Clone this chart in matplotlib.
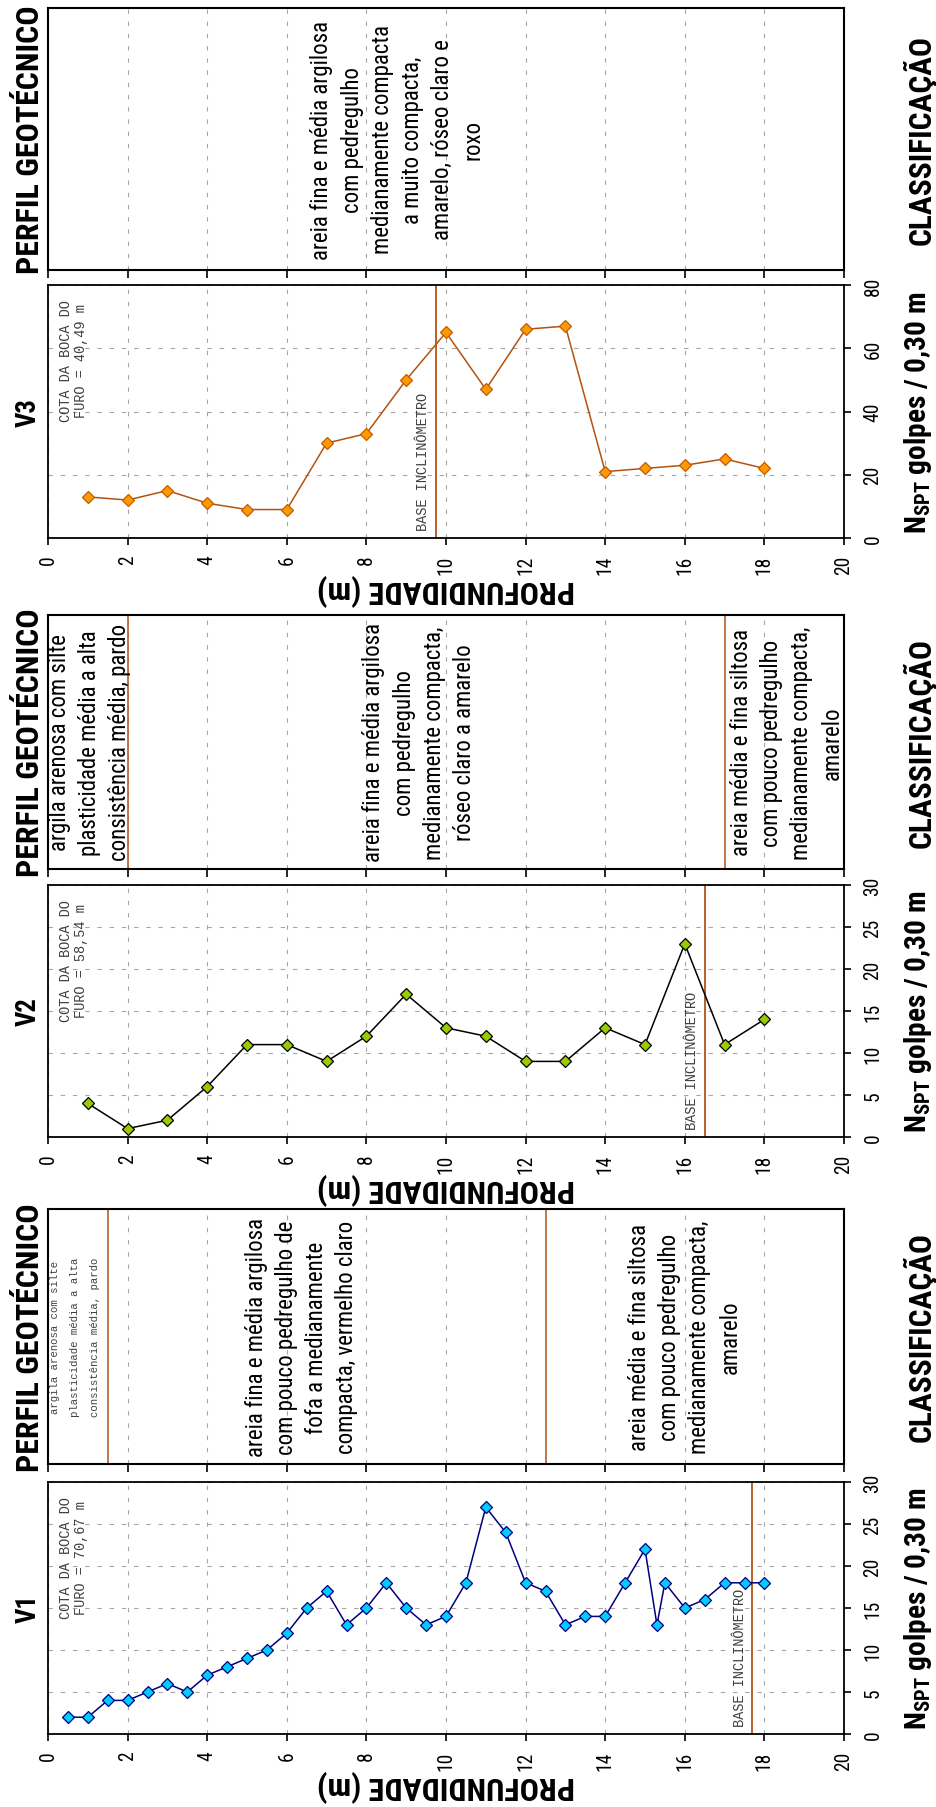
import matplotlib
matplotlib.use('Agg')
import matplotlib.pyplot as plt
from matplotlib import font_manager as fm

# ------------------------------------------------------------------ data
v1_depth = [0.5, 1.0, 1.5, 2.0, 2.5, 3.0, 3.5, 4.0, 4.5, 5.0, 5.5, 6.0, 6.5, 7.0, 7.5,
            8.0, 8.5, 9.0, 9.5, 10.0, 10.5, 11.0, 11.5, 12.0, 12.5, 13.0, 13.5, 14.0,
            14.5, 15.0, 15.3, 15.5, 16.0, 16.5, 17.0, 17.5, 18.0]
v1_nspt = [2, 2, 4, 4, 5, 6, 5, 7, 8, 9, 10, 12, 15, 17, 13, 15, 18, 15, 13, 14,
           18, 27, 24, 18, 17, 13, 14, 14, 18, 22, 13, 18, 15, 16, 18, 18, 18]

v2_depth = [1, 2, 3, 4, 5, 6, 7, 8, 9, 10, 11, 12, 13, 14, 15, 16, 17, 18]
v2_nspt = [4, 1, 2, 6, 11, 11, 9, 12, 17, 13, 12, 9, 9, 13, 11, 23, 11, 14]

v3_depth = [1, 2, 3, 4, 5, 6, 7, 8, 9, 10, 11, 12, 13, 14, 15, 16, 17, 18]
v3_nspt = [13, 12, 15, 11, 9, 9, 30, 33, 50, 65, 47, 66, 67, 21, 22, 23, 25, 22]

furos = ['V1', 'V2', 'V3']
cotas = ['70,67', '58,54', '40,49']
base_inclinometro = [17.7, 16.5, 9.75]

v1_limites = [1.5, 12.5]
v2_limites = [2.0, 17.0]
v3_limites = []

v1_camadas = [
    ['argila arenosa com silte', 'plasticidade média a alta', 'consistência média, pardo'],
    ['areia fina e média argilosa', 'com pouco pedregulho de', 'fofa a medianamente',
     'compacta, vermelho claro'],
    ['areia média e fina siltosa', 'com pouco pedregulho', 'medianamente compacta,', 'amarelo'],
]
v2_camadas = [
    ['argila arenosa com silte', 'plasticidade média a alta', 'consistência média, pardo'],
    ['areia fina e média argilosa', 'com pedregulho', 'medianamente compacta,',
     'róseo claro a amarelo'],
    ['areia média e fina siltosa', 'com pouco pedregulho', 'medianamente compacta,', 'amarelo'],
]
v3_camadas = [
    ['areia fina e média argilosa', 'com pedregulho', 'medianamente compacta',
     'a muito compacta,', 'amarelo, róseo claro e', 'roxo'],
]

# ------------------------------------------------------------------ fonts
names = {f.name for f in fm.fontManager.ttflist}
def pick(cands, default):
    for c in cands:
        if c in names:
            return c
    return default

SANS = pick(['Liberation Sans Narrow', 'Arial Narrow', 'Roboto Condensed', 'Liberation Sans'], 'DejaVu Sans')
MONO = pick(['Liberation Mono', 'DejaVu Sans Mono'], 'DejaVu Sans Mono')

plt.rcParams['mathtext.fontset'] = 'custom'
plt.rcParams['mathtext.bf'] = SANS + ':bold'
plt.rcParams['mathtext.rm'] = SANS

W, H = 936, 1808
fig = plt.figure(figsize=(W / 100, H / 100), dpi=100)
fig.patch.set_facecolor('white')
renderer = fig.canvas.get_renderer()


def text_len(s, family, weight='normal'):
    t = fig.text(0, 0, s, fontsize=10, family=family, fontweight=weight)
    w = t.get_window_extent(renderer).width
    t.remove()
    return w


def size_for(s, target, family, weight='normal'):
    return 10.0 * target / text_len(s, family, weight)


def add_ax(x0, y0, x1, y1):
    return fig.add_axes([x0 / W, 1 - y1 / H, (x1 - x0) / W, (y1 - y0) / H])


def ftext(xp, yp, s, **kw):
    return fig.text(xp / W, 1 - yp / H, s, **kw)


BROWN = '#B5602A'
GRID = '#a6a6a6'
DASH = (0, (4, 7))

tick_size = size_for('10', 19, SANS)
layer_size = size_for('areia fina e média argilosa', 238, SANS)
mono_size = size_for('COTA DA BOCA DO', 123, MONO)
mono_small = size_for('argila arenosa com silte', 153, MONO)
perfil_size = size_for('PERFIL GEOTÉCNICO', 267, SANS, 'bold')
class_size = size_for('CLASSIFICAÇÃO', 210, SANS, 'bold')
prof_size = size_for('PROFUNDIDADE (m)', 255, SANS, 'bold')
NLABEL = r'$\mathbf{N}_{\mathbf{SPT}}$ golpes / 0,30 m'
n_size = size_for(NLABEL, 245, SANS, 'bold')
v_size = size_for('V1', 29, SANS, 'bold')

XL, XR = 48, 844


def chart(y0, y1, depth, nspt, ymax, ystep, lc, fc, ec, base, cota, nome):
    ax = add_ax(XL, y0, XR, y1)
    ax.set_xlim(0, 20)
    ax.set_ylim(0, ymax)
    ax.set_xticks(range(0, 21, 2))
    ax.set_yticks(range(0, ymax + 1, ystep))
    ax.yaxis.tick_right()
    ax.tick_params(axis='both', direction='out', length=5, width=1.2,
                   labelsize=tick_size, labelfontfamily=SANS)
    ax.tick_params(axis='x', labelrotation=90, pad=7)
    ax.tick_params(axis='y', labelrotation=90, pad=9)
    for lab in ax.get_yticklabels():
        lab.set_va('center')
        lab.set_ha('left')
    for sp in ax.spines.values():
        sp.set_linewidth(1.3)
    ax.set_axisbelow(True)
    ax.grid(True, color=GRID, linestyle=DASH, linewidth=0.8)
    ax.axvline(base, color=BROWN, lw=1.4, zorder=2)
    ax.text(base - 0.32, 0.03 * ymax, 'BASE INCLINÔMETRO', rotation=90, ha='center',
            va='bottom', family=MONO, fontsize=mono_size, color='#404040')
    ax.plot(depth, nspt, '-', color=lc, lw=1.1, marker='D', ms=6.4, mfc=fc, mec=ec,
            mew=0.9, zorder=3, clip_on=False)
    ax.text(0.65 / 20, 1 - 14 / (y1 - y0), 'COTA DA BOCA DO\nFURO = %s m' % cota,
            transform=ax.transAxes, rotation=90, ha='center', va='top',
            multialignment='center', family=MONO, fontsize=mono_size,
            color='#404040', linespacing=1.1)
    yc = (y0 + y1) / 2
    ftext(28, yc, nome, rotation=90, ha='center', va='center', fontsize=v_size,
          fontweight='bold', family=SANS)
    ftext(918, yc, NLABEL, rotation=90, ha='center', va='center', fontsize=n_size,
          fontweight='bold', family=SANS)
    ftext((XL + XR) / 2, y1 + 51, 'PROFUNDIDADE (m)', rotation=180, ha='center',
          va='center', fontsize=prof_size, fontweight='bold', family=SANS)
    return ax


def perfil(y0, y1, limites, camadas, centros, mono_first=False):
    ax = add_ax(XL, y0, XR, y1)
    ax.set_xlim(0, 20)
    ax.set_ylim(0, 1)
    ax.set_xticks(range(0, 21, 2))
    ax.set_yticks([])
    ax.tick_params(axis='x', direction='out', length=6, width=1.2, labelbottom=False)
    for sp in ax.spines.values():
        sp.set_linewidth(1.5)
    ax.set_axisbelow(True)
    ax.grid(True, axis='x', color=GRID, linestyle=DASH, linewidth=0.8)
    for b in limites:
        ax.axvline(b, color=BROWN, lw=1.2)
    for k, (linhas, c) in enumerate(zip(camadas, centros)):
        n = len(linhas)
        small = mono_first and k == 0
        step = 0.5 if small else 0.76
        for i, l in enumerate(linhas):
            if small:
                ax.text(c + (i - (n - 1) / 2) * step, 0.5, l, rotation=90, ha='center',
                        va='center', family=MONO, fontsize=mono_small, color='#404040')
            else:
                ax.text(c + (i - (n - 1) / 2) * step, 0.5, l, rotation=90, ha='center',
                        va='center', family=SANS, fontsize=layer_size, color='black')
    yc = (y0 + y1) / 2
    ftext(30, yc, 'PERFIL GEOTÉCNICO', rotation=90, ha='center', va='center',
          fontsize=perfil_size, fontweight='bold', family=SANS)
    ftext(920, yc, 'CLASSIFICAÇÃO', rotation=90, ha='center', va='center',
          fontsize=class_size, fontweight='bold', family=SANS)
    return ax


# V3 (top)
perfil(9, 271, v3_limites, v3_camadas, [8.78])
chart(286, 539, v3_depth, v3_nspt, 80, 20, '#B4520F', '#FF9900', '#C25A00',
      base_inclinometro[2], cotas[2], furos[2])
# V2
perfil(616, 870, v2_limites, v2_camadas, [1.04, 9.33, 18.56])
chart(886, 1138, v2_depth, v2_nspt, 30, 5, '#000000', '#99CC00', '#000000',
      base_inclinometro[1], cotas[1], furos[1])
# V1
perfil(1210, 1465, v1_limites, v1_camadas, [0.68, 6.37, 16.0], mono_first=True)
chart(1483, 1735, v1_depth, v1_nspt, 30, 5, '#000080', '#00CCFF', '#000080',
      base_inclinometro[0], cotas[0], furos[0])

fig.savefig('out.png', dpi=100, facecolor='white')
